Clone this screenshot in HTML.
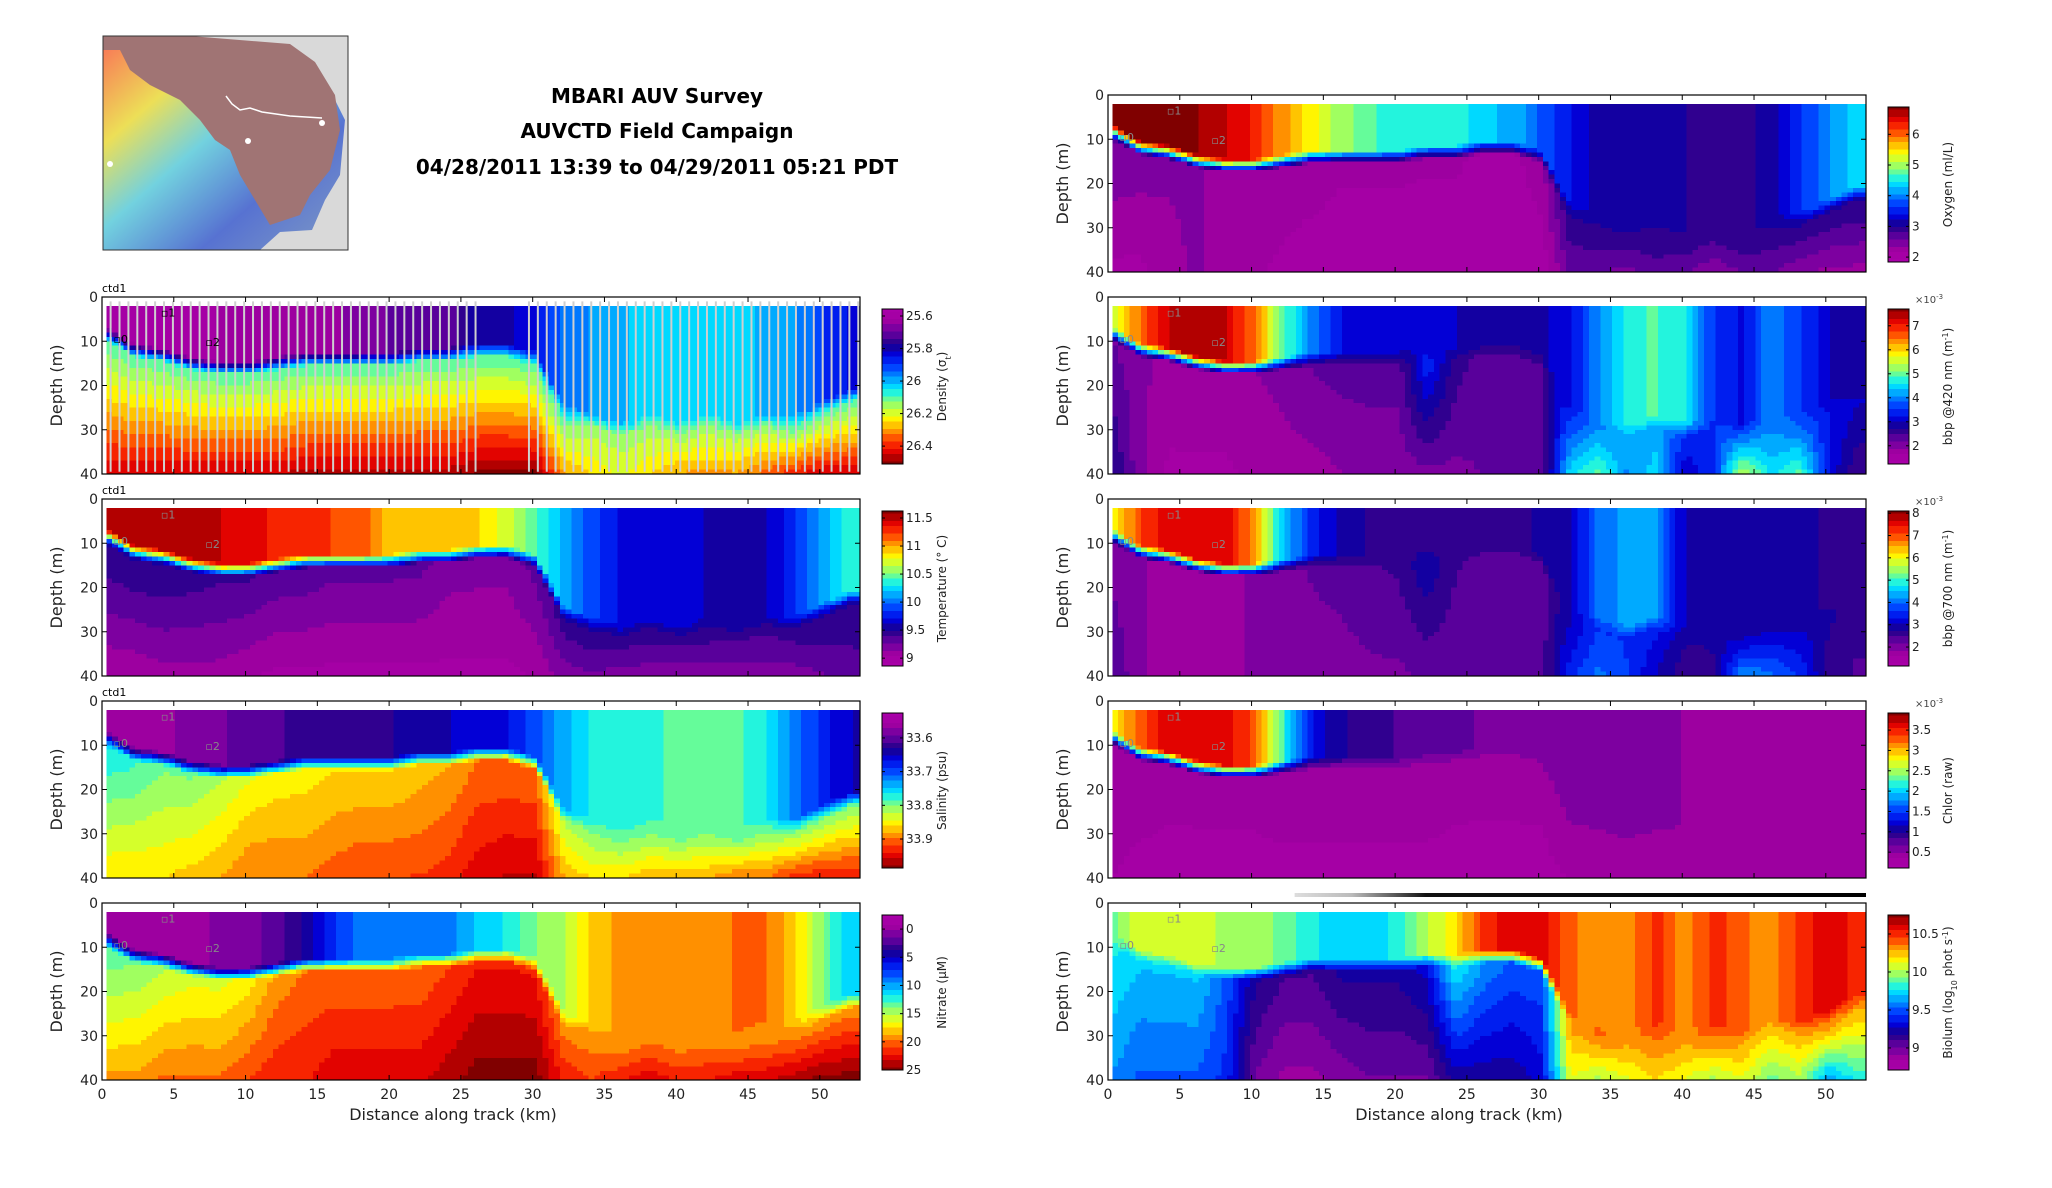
<!DOCTYPE html>
<html><head><meta charset="utf-8">
<style>
html,body{margin:0;padding:0;background:#fff;}
svg{display:block;font-family:"DejaVu Sans","Liberation Sans",sans-serif;}
</style></head>
<body>
<svg id="fig" width="2052" height="1188" viewBox="0 0 2052 1188" xmlns="http://www.w3.org/2000/svg">
<rect width="2052" height="1188" fill="#fff"/>
<g>
  <defs>
    <linearGradient id="bathy" x1="0" y1="0" x2="1" y2="1">
      <stop offset="0" stop-color="#ff6040"/>
      <stop offset="0.25" stop-color="#f0e040"/>
      <stop offset="0.45" stop-color="#60d0e0"/>
      <stop offset="0.7" stop-color="#4060d0"/>
      <stop offset="1" stop-color="#7090c0"/>
    </linearGradient>
  </defs>
  <rect x="103" y="36" width="245" height="214" fill="#d9d9d9"/>
  <path d="M103 50 L200 40 L300 52 L325 80 L345 120 L340 175 L325 200 L312 230 L280 232 L260 250 L103 250 Z" fill="url(#bathy)" opacity="0.85"/>
  <path d="M190 36 L290 44 L315 62 L335 95 L340 130 L330 170 L310 195 L300 215 L270 225 L255 200 L240 175 L230 150 L215 140 L200 120 L180 100 L150 85 L130 70 L120 50 L103 50 L103 36 Z" fill="#a07474"/>
  <polyline points="226,96 232,104 240,110 250,108 262,112 290,116 322,118" fill="none" stroke="#fff" stroke-width="1.5"/>
  <circle cx="322" cy="123" r="3" fill="#fff"/><circle cx="248" cy="141" r="3" fill="#fff"/><circle cx="110" cy="164" r="3" fill="#fff"/>
  <rect x="103" y="36" width="245" height="214" fill="none" stroke="#333" stroke-width="1"/>
</g>
<g font-weight="bold" font-size="20" text-anchor="middle" fill="#000">
  <text x="657" y="103">MBARI AUV Survey</text>
  <text x="657" y="138">AUVCTD Field Campaign</text>
  <text x="657" y="174">04/28/2011 13:39 to 04/29/2011 05:21 PDT</text>
</g>
<g id="panels"></g>
</svg>
<script>
// distance bins (km) shared by every section
const kmBins = [0,2,4,6,8,10,12,14,16,18,20,22,24,26,28,30,32,34,36,38,40,42,44,46,48,50,52];
const mixedLayerDepth = [8,12,13,15,16,16,15,14,14,14,14,13,13,12,12,14,26,28,30,28,30,28,30,28,28,25,22];
const depthTicks = [0,10,20,30,40];
const distTicks = [0,5,10,15,20,25,30,35,40,45,50];

const densSurf = [25.6,25.6,25.6,25.6,25.62,25.62,25.65,25.65,25.65,25.68,25.7,25.7,25.72,25.8,25.8,25.85,25.95,25.98,26.0,26.05,26.05,26.05,26.05,26.0,25.98,25.9,25.85];
const densSub  = [26.1,26.1,26.1,26.1,26.1,26.1,26.1,26.1,26.1,26.1,26.1,26.1,26.1,26.1,26.1,26.1,26.1,26.15,26.15,26.15,26.15,26.15,26.15,26.15,26.1,26.1,26.1];
const densDeep = [26.45,26.45,26.45,26.45,26.45,26.45,26.45,26.47,26.47,26.47,26.47,26.47,26.47,26.5,26.5,26.5,26.3,26.25,26.2,26.25,26.3,26.3,26.3,26.35,26.4,26.45,26.45];
const densTicks = [25.6,25.8,26,26.2,26.4];

const tempSurf = [11.5,11.5,11.5,11.5,11.45,11.4,11.3,11.3,11.2,11.15,10.9,10.9,10.9,10.9,10.7,10.45,10.1,9.9,9.7,9.7,9.7,9.6,9.6,9.6,9.8,10.1,10.4];
const tempSub  = [9.5,9.5,9.5,9.45,9.4,9.4,9.35,9.35,9.3,9.3,9.3,9.3,9.2,9.2,9.2,9.3,9.45,9.5,9.45,9.45,9.45,9.45,9.4,9.4,9.45,9.5,9.5];
const tempDeep = [9.05,9.05,9.1,9.1,9.1,9.05,9.0,9.0,9.0,9.0,9.0,9.0,9.0,9.0,9.0,9.05,9.2,9.25,9.2,9.2,9.15,9.2,9.2,9.2,9.2,9.25,9.3];
const tempTicks = [9,9.5,10,10.5,11,11.5];

const salSurf = [33.56,33.56,33.57,33.58,33.59,33.6,33.61,33.62,33.62,33.63,33.63,33.64,33.65,33.66,33.67,33.7,33.74,33.77,33.78,33.78,33.79,33.79,33.79,33.77,33.72,33.68,33.65];
const salSub  = [33.76,33.78,33.8,33.8,33.82,33.84,33.85,33.85,33.86,33.86,33.86,33.87,33.88,33.9,33.9,33.9,33.82,33.8,33.8,33.8,33.8,33.8,33.8,33.8,33.8,33.8,33.8];
const salDeep = [33.86,33.86,33.86,33.87,33.88,33.9,33.9,33.9,33.91,33.92,33.92,33.92,33.93,33.95,33.96,33.96,33.88,33.86,33.86,33.88,33.88,33.88,33.9,33.9,33.93,33.94,33.94];
const salTicks = [33.6,33.7,33.8,33.9];

const nitSurf = [0,0,0,0,0.5,1,2,4,7,9,9,9,9,11,12,14,15,18,19,19,19,19,20,20,18,14,11];
const nitSub  = [13,14,15,16,16,17,19,20,20,20,20,20,21,22,22,22,19,19,19,19,19,19,19,19,19,19,19];
const nitDeep = [19,19,20,20,20,21,22,22,23,23,23,23,24,25,25,25,22,21,22,23,22,22,23,23,24,25,25];
const nitTicks = [0,5,10,15,20,25];

const oxySurf = [6.8,6.8,6.8,6.8,6.6,6.3,5.8,5.4,5.0,4.7,4.6,4.6,4.6,4.3,4.2,3.8,3.4,3.1,3.1,3.1,3.0,2.9,2.9,3.1,3.6,4.0,4.4];
const oxySub  = [2.6,2.5,2.4,2.4,2.3,2.3,2.3,2.3,2.2,2.2,2.2,2.2,2.2,2.1,2.1,2.3,3.0,3.0,3.0,3.0,3.0,3.0,3.0,3.0,3.0,3.0,3.0];
const oxyDeep = [2.1,2.1,2.3,2.4,2.3,2.2,2.1,2.0,2.0,2.0,2.0,1.95,1.95,1.95,1.95,2.0,2.6,2.6,2.5,2.7,2.6,2.4,2.6,2.6,2.4,2.3,2.3];
const oxyTicks = [2,3,4,5,6];

const b420Surf = [5.5,6.5,7.3,7.3,7.3,6.5,5.0,4.0,3.3,3.0,3.0,3.0,3.0,2.8,2.8,2.9,3.2,4.0,4.8,4.9,4.6,3.5,3.2,4.0,3.6,3.0,2.8];
const b420Sub  = [2.2,2.0,1.8,1.8,1.8,1.9,2.0,2.2,2.3,2.3,2.3,3.5,2.6,2.3,2.3,2.4,3.5,4.0,4.2,4.2,3.5,3.5,3.8,4.0,3.8,3.3,3.0];
const b420Deep = [2.8,2.0,1.6,1.6,1.6,1.7,1.8,1.8,1.9,2.0,2.0,2.1,2.1,2.2,2.2,2.2,4.5,5.0,4.0,4.5,3.0,3.5,5.5,4.5,5.0,3.2,2.5];
const b420Ticks = [2,3,4,5,6,7];

const b700Surf = [6.0,7.0,7.6,7.6,7.6,6.6,4.5,3.5,2.9,2.7,2.7,2.7,2.7,2.6,2.6,2.8,3.0,4.0,4.3,4.2,3.0,3.0,3.0,2.8,2.8,2.7,2.5];
const b700Sub  = [2.0,1.9,1.8,1.8,1.8,1.9,2.0,2.2,2.3,2.4,2.5,3.0,2.5,2.3,2.3,2.3,3.0,3.6,3.6,3.4,2.8,2.8,3.0,3.0,3.0,2.8,2.6];
const b700Deep = [2.5,1.9,1.8,1.8,1.8,1.9,2.0,2.0,2.0,2.1,2.1,2.2,2.2,2.2,2.2,2.3,3.5,4.0,3.6,3.0,2.5,2.7,4.2,4.0,3.6,2.6,2.4];
const b700Ticks = [2,3,4,5,6,7,8];

const chlSurf = [2.8,3.3,3.6,3.6,3.6,3.3,2.2,1.3,1.0,0.9,0.8,0.75,0.7,0.65,0.65,0.6,0.6,0.55,0.55,0.55,0.5,0.5,0.5,0.5,0.5,0.5,0.5];
const chlSub  = [0.5,0.45,0.4,0.4,0.4,0.4,0.45,0.45,0.45,0.45,0.45,0.45,0.4,0.4,0.4,0.4,0.5,0.5,0.5,0.5,0.45,0.45,0.45,0.45,0.45,0.45,0.45];
const chlDeep = [0.35,0.3,0.3,0.3,0.3,0.3,0.3,0.3,0.3,0.3,0.3,0.3,0.3,0.3,0.3,0.3,0.35,0.35,0.35,0.35,0.35,0.35,0.35,0.35,0.35,0.35,0.35];
const chlTicks = [0.5,1,1.5,2,2.5,3,3.5];

const bioSurf = [9.9,10.1,10.1,10.1,10.0,10.0,9.9,9.8,9.7,9.7,9.8,10.0,10.2,10.5,10.6,10.6,10.4,10.3,10.3,10.5,10.3,10.5,10.4,10.3,10.5,10.6,10.5];
const bioSub  = [9.8,9.7,9.7,9.7,9.5,9.2,9.1,9.1,9.2,9.2,9.2,9.3,9.8,9.6,9.5,9.5,10.3,10.4,10.3,10.4,10.3,10.4,10.3,10.2,10.3,10.4,10.3];
const bioDeep = [9.6,9.5,9.5,9.5,9.4,9.0,8.9,8.9,8.95,9.0,9.0,9.0,9.2,9.2,9.2,9.3,10.1,10.0,10.1,10.2,10.1,10.0,10.1,9.9,10.0,9.6,9.8];
const bioTicks = [9,9.5,10,10.5];

const NS='http://www.w3.org/2000/svg';
const root=document.getElementById('panels');
function mk(tag,attrs,parent){const e=document.createElementNS(NS,tag);for(const k in attrs)e.setAttribute(k,attrs[k]);(parent||root).appendChild(e);return e;}

const cmapStops=[[0,[170,0,170]],[0.08,[160,0,160]],[0.15,[106,0,160]],[0.23,[26,0,136]],[0.3,[0,0,224]],[0.37,[0,64,255]],[0.45,[0,160,255]],[0.52,[0,240,255]],[0.6,[128,255,128]],[0.7,[255,255,0]],[0.78,[255,160,0]],[0.86,[255,48,0]],[0.92,[224,0,0]],[1,[128,0,0]]];
function cmap(t){t=Math.max(0,Math.min(1,t));t=Math.round(t*24)/24;
  for(let i=1;i<cmapStops.length;i++){if(t<=cmapStops[i][0]){const a=cmapStops[i-1],b=cmapStops[i];const f=(t-a[0])/(b[0]-a[0]);
    const c=a[1].map((v,j)=>Math.round(v+(b[1][j]-v)*f));return 'rgb('+c.join(',')+')';}}return 'rgb(128,0,0)';}

const KMAX=52.8, DMAX=40, PW=758, PH=177;
const panels=[
 {name:'density',left:102,top:297,surf:densSurf,sub:densSub,deep:densDeep,vmin:25.557,vmax:26.51,flip:true,ticks:densTicks,label:'Density (σ<tspan baseline-shift="sub" font-size="8">t</tspan>)',ctd:true,tracks:true},
 {name:'temperature',left:102,top:499,surf:tempSurf,sub:tempSub,deep:tempDeep,vmin:8.86,vmax:11.625,flip:false,ticks:tempTicks,label:'Temperature (° C)',ctd:true},
 {name:'salinity',left:102,top:701,surf:salSurf,sub:salSub,deep:salDeep,vmin:33.526,vmax:33.986,flip:true,ticks:salTicks,label:'Salinity (psu)',ctd:true},
 {name:'nitrate',left:102,top:903,surf:nitSurf,sub:nitSub,deep:nitDeep,vmin:-2.5,vmax:25,flip:true,ticks:nitTicks,label:'Nitrate (μM)',xlab:true},
 {name:'oxygen',left:1108,top:95,surf:oxySurf,sub:oxySub,deep:oxyDeep,vmin:1.84,vmax:6.89,flip:false,ticks:oxyTicks,label:'Oxygen (ml/L)'},
 {name:'bbp420',left:1108,top:297,surf:b420Surf,sub:b420Sub,deep:b420Deep,vmin:1.24,vmax:7.7,flip:false,ticks:b420Ticks,label:'bbp @420 nm (m<tspan baseline-shift="super" font-size="8">-1</tspan>)',exp:true},
 {name:'bbp700',left:1108,top:499,surf:b700Surf,sub:b700Sub,deep:b700Deep,vmin:1.15,vmax:8.1,flip:false,ticks:b700Ticks,label:'bbp @700 nm (m<tspan baseline-shift="super" font-size="8">-1</tspan>)',exp:true},
 {name:'chlorophyll',left:1108,top:701,surf:chlSurf,sub:chlSub,deep:chlDeep,vmin:0.11,vmax:3.92,flip:false,ticks:chlTicks,label:'Chlor (raw)',exp:true},
 {name:'bioluminescence',left:1108,top:903,surf:bioSurf,sub:bioSub,deep:bioDeep,vmin:8.71,vmax:10.75,flip:false,ticks:bioTicks,label:'Biolum (log<tspan baseline-shift="sub" font-size="8">10</tspan> phot s<tspan baseline-shift="super" font-size="8">-1</tspan>)',xlab:true,bar:true}
];

function interp(arr,km){const f=km/2;let i=Math.floor(f);if(i>=arr.length-1)return arr[arr.length-1];const r=f-i;return arr[i]+(arr[i+1]-arr[i])*r;}

panels.forEach(p=>{
  const g=mk('g',{});
  
  
  const xs=km=>p.left+km/KMAX*PW, ys=d=>p.top+d/DMAX*PH;
  const cells=mk('g',{'shape-rendering':'crispEdges'},g);
  
  
  for(let km=0.3;km<KMAX-0.05;km+=0.4){
    const mld=interp(mixedLayerDepth,km), s=interp(p.surf,km), sb=interp(p.sub,km), dp=interp(p.deep,km);
    for(let d=2;d<DMAX;d+=1){
      const dc=d+0.5;let v;
      if(dc<mld-1.5) v=s;
      else if(dc<mld+1.5){const f=(dc-(mld-1.5))/3;v=s+(sb-s)*f;}
      else v=sb+(dp-sb)*(dc-mld-1.5)/Math.max(1,DMAX-mld-1.5);
      const x0=xs(km),x1=xs(Math.min(km+0.4,KMAX-0.05));
      const r=mk('rect',{x:x0.toFixed(1),y:ys(d).toFixed(1),width:(x1-x0+0.6).toFixed(1),height:(PH/DMAX+0.6).toFixed(1),fill:cmap((v-p.vmin)/(p.vmax-p.vmin))},cells);
      
      
    }
  }
  if(p.tracks){
    const tg=mk('g',{stroke:'#cfcfcf','stroke-width':'2'},g);
    
    
    for(let km=0.6;km<KMAX;km+=0.62){ if(km>26.3&&km<29.6)continue;
      const l=mk('line',{x1:xs(km),x2:xs(km),y1:ys(1),y2:ys(39.5)},tg);
      
      
    }
  }
  [[0.8,9.5,'0'],[4.1,3.5,'1'],[7.2,10.2,'2']].forEach(m=>{
    const t=mk('text',{x:xs(m[0]),y:ys(m[1])+4,'font-size':'11',fill:p.tracks?'#000':'#888'},g);
    t.textContent='▫'+m[2];
    
    
  });
  const box=mk('rect',{x:p.left,y:p.top,width:PW,height:PH,fill:'none',stroke:'#000','stroke-width':'1.2'},g);
  
  
  depthTicks.forEach(d=>{
    mk('line',{x1:p.left,x2:p.left+5,y1:ys(d),y2:ys(d),stroke:'#000'},g);
    mk('line',{x1:p.left+PW,x2:p.left+PW-5,y1:ys(d),y2:ys(d),stroke:'#000'},g);
    const t=mk('text',{x:p.left-4,y:ys(d)+5,'font-size':'14','text-anchor':'end',fill:'#222'},g);
    t.textContent=d;
    
    
  });
  distTicks.forEach(k=>{
    mk('line',{x1:xs(k),x2:xs(k),y1:p.top,y2:p.top+5,stroke:'#000'},g);
    mk('line',{x1:xs(k),x2:xs(k),y1:p.top+PH,y2:p.top+PH-5,stroke:'#000'},g);
    if(p.xlab){const t=mk('text',{x:xs(k),y:p.top+PH+19,'font-size':'14','text-anchor':'middle',fill:'#222'},g);
      t.textContent=k;
      
      }
  });
  const yl=mk('text',{x:0,y:0,'font-size':'16','text-anchor':'middle',fill:'#222',transform:'translate('+(p.left-40)+','+(p.top+PH/2)+') rotate(-90)'},g);
  yl.textContent='Depth (m)';
  
  
  if(p.xlab){const xl=mk('text',{x:p.left+PW/2-28,y:p.top+PH+40,'font-size':'16','text-anchor':'middle',fill:'#222'},g);
    xl.textContent='Distance along track (km)';
    
    }
  if(p.ctd){const c=mk('text',{x:p.left,y:p.top-5,'font-size':'11',fill:'#000'},g);
    c.textContent='ctd1';
    
    }
  if(p.bar){
    const defs=mk('defs',{},g);
    const lg=mk('linearGradient',{id:'gbar',x1:'0',x2:'1',y1:'0',y2:'0'},defs);
    mk('stop',{offset:'0','stop-color':'#ddd'},lg);mk('stop',{offset:'0.1','stop-color':'#bbb'},lg);
    mk('stop',{offset:'0.23','stop-color':'#111'},lg);mk('stop',{offset:'1','stop-color':'#000'},lg);
    const b=mk('rect',{x:xs(13),y:p.top-10,width:xs(52.8)-xs(13),height:4,fill:'url(#gbar)'},g);
    
    
  }
  const cbx=p.left+PW+22, cby=p.top+12, cbh=155, cbw=21;
  const cb=mk('g',{},g);
  
  
  for(let i=0;i<62;i++){const frac=i/62;const t=p.flip?frac:1-frac;
    mk('rect',{x:cbx,y:(cby+frac*cbh).toFixed(1),width:cbw,height:(cbh/62+0.6).toFixed(1),fill:cmap(t+0.008*(p.flip?1:-1)),'shape-rendering':'crispEdges'},cb);}
  mk('rect',{x:cbx,y:cby,width:cbw,height:cbh,fill:'none',stroke:'#000','stroke-width':'1'},cb);
  p.ticks.forEach(v=>{const fr=(v-p.vmin)/(p.vmax-p.vmin);const y=cby+(p.flip?fr:1-fr)*cbh;
    mk('line',{x1:cbx,x2:cbx+3,y1:y,y2:y,stroke:'#000'},cb);mk('line',{x1:cbx+cbw,x2:cbx+cbw-3,y1:y,y2:y,stroke:'#000'},cb);
    const t=mk('text',{x:cbx+cbw+3,y:y+4,'font-size':'12',fill:'#222'},cb);
    t.textContent=v;
    
    });
  if(p.exp){const e=mk('text',{x:cbx+cbw+6,y:cby-6,'font-size':'10',fill:'#444'},cb);
    e.innerHTML='×10<tspan baseline-shift="super" font-size="7">-3</tspan>';
    
    }
  const cl=mk('text',{x:0,y:0,'font-size':'12','text-anchor':'middle',fill:'#222',transform:'translate('+(cbx+64)+','+(cby+cbh/2)+') rotate(-90)'},cb);
  cl.innerHTML=p.label;
  
  
});
</script>
</body></html>
